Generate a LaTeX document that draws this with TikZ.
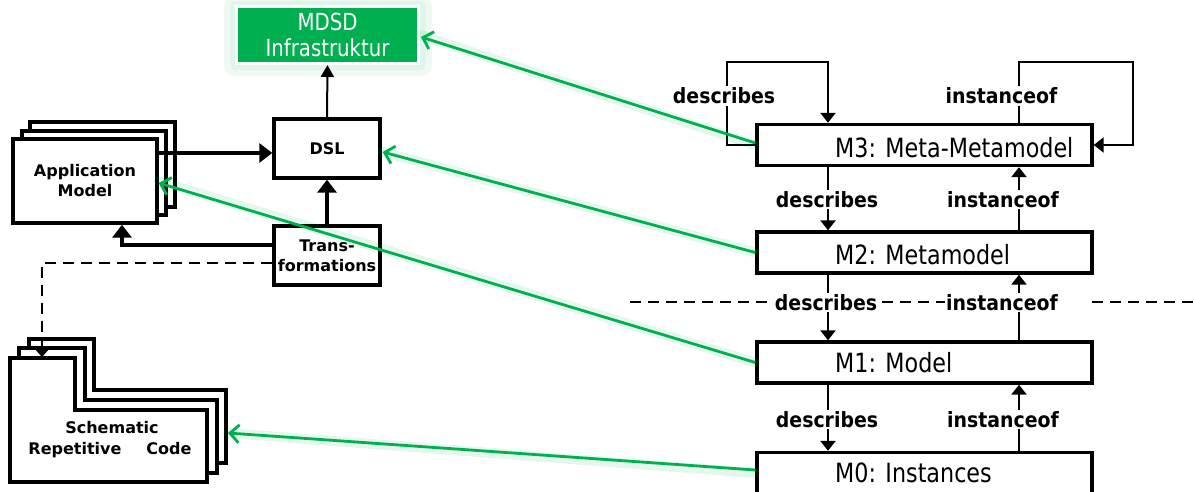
\documentclass[tikz,border=0pt]{standalone}
\usepackage{fontspec}
\setmainfont{DejaVu Sans}
\newfontfamily\tah[FakeStretch=0.84]{DejaVu Sans}
\newfontfamily\lbl[FakeStretch=0.9]{DejaVu Sans}
\usetikzlibrary{arrows.meta,calc}
\definecolor{mgreen}{RGB}{0,176,80}
\begin{document}
\begin{tikzpicture}[x=1pt,y=-1pt,
  box/.style={draw, line width=3.4pt, fill=white, inner sep=0pt},
  lbox/.style={box, minimum width=106pt, minimum height=59pt, align=center,
    font=\bfseries\fontsize{16}{20}\selectfont},
  mbox/.style={box, minimum width=335pt, minimum height=41pt},
  mtext/.style={anchor=base west, inner sep=0pt, font=\tah\fontsize{26.5}{30}\selectfont},
  lab/.style={fill=white, inner sep=1.5pt, font=\lbl\bfseries\fontsize{21}{22}\selectfont},
  btext/.style={anchor=base, inner sep=0pt, font=\bfseries\fontsize{16}{20}\selectfont},
  arr/.style={line width=2.8pt, -{Triangle[length=10pt,width=15pt]}},
  larr/.style={line width=3.3pt, -{Triangle[length=13pt,width=19pt]}},
  loopl/.style={line width=2.4pt, line join=miter},
  glow/.style={line width=10pt, draw=mgreen, draw opacity=0.10, line cap=round},
  garr/.style={line width=2.8pt, draw=mgreen, -{Straight Barb[length=9pt,width=18pt,line width=2.8pt]}},
  dashln/.style={line width=2.6pt, dash pattern=on 11pt off 7pt}
]
\useasboundingbox (0,0) rectangle (1194,491);

% ---------- MDSD infrastructure (with glow) ----------
\fill[mgreen!6, rounded corners=10pt] (224,-4) rectangle (432,76);
\fill[mgreen!12, rounded corners=6pt] (230,1) rectangle (426,70);
\node[fill=mgreen, draw=white, line width=3pt, minimum width=182pt, minimum height=57pt,
  inner sep=0pt, align=center, text=white, font=\tah\fontsize{23.5}{25.5}\selectfont]
  (mdsd) at (327.5,35) {MDSD\\Infrastruktur};

% ---------- DSL, Transformations ----------
\node[lbox] (dsl) at (327,148.5) {DSL};
\node[lbox] (trans) at (327,255.5) {Trans-\\formations};

% ---------- Application model stack ----------
\draw[box] (30,122) rectangle (175,207);
\draw[box] (22,131) rectangle (166,215);
\node[lbox, minimum width=144pt, minimum height=84pt] (app) at (85,181) {Application\\Model};

% ---------- Code stack (folder shapes) ----------
\draw[box] (29,339) -- (94,339) -- (94,390) -- (226,390) -- (226,463) -- (29,463) -- cycle;
\draw[box] (19,348) -- (85,348) -- (85,400) -- (217,400) -- (217,473) -- (19,473) -- cycle;
\draw[box] (10,358) -- (75,358) -- (75,410) -- (207,410) -- (207,482) -- (10,482) -- cycle;
\node[btext] (sch) at (112,433) {Schematic};
\node[btext] (rep) at (75,454) {Repetitive};
\node[btext] (cod) at (169,454) {Code};
\coordinate (codetop) at (42,357);
\coordinate (codeR) at (228,433);

% ---------- left connectors ----------
\draw[line width=2pt, -{Triangle[length=12pt,width=13pt]}] (dsl.north) -- (mdsd.south);
\draw[larr] (trans.north) -- (dsl.south);
\draw[larr] (app.east |- {$(dsl.west)+(0,4.5)$}) -- ($(dsl.west)+(0,4.5)$);
\draw[larr] ($(trans.west)+(0,-10.5)$) -| ($(app.south)+(37,0)$);
\draw[dashln, -{Triangle[length=11pt,width=19pt]}] ($(trans.west)+(0,7.5)$) -| (codetop);

% ---------- M boxes ----------
\node[mbox] (m3) at (924.5,145) {};
\node[mbox] (m2) at (924.5,252.5) {};
\node[mbox] (m1) at (924.5,362.5) {};
\node[mbox] (m0) at (924.5,473) {};
\node[mtext] (t3) at (835,157) {M3: Meta-Metamodel};
\node[mtext] (t2) at (835,264) {M2: Metamodel};
\node[mtext] (t1) at (835,372) {M1: Model};
\node[mtext] (t0) at (835,482) {M0: Instances};

\coordinate (dx) at (828,0);
\coordinate (ix) at (1019,0);

% dashed separator
\draw[dashln] (630,302) -- (1060,302);
\draw[dashln] (1092,302) -- (1194,302);

% self loops on M3
\draw[loopl, -{Triangle[length=10pt,width=15pt]}] (m3.west) -- (727,145) -- (727,62) -- (828,62) -- (m3.north -| dx);
\draw[loopl, -{Triangle[length=10pt,width=15pt]}] (m3.north -| ix) -- (1019,62) -- (1133,62) -- (1133,145) -- (m3.east);
\node[lab] (d3) at (724,96) {describes};
\node[lab] (i3) at (1001.5,96) {instanceof};

% describes / instanceof between levels
\draw[arr] (m3.south -| dx) -- (m2.north -| dx);
\draw[arr] (m2.north -| ix) -- (m3.south -| ix);
\draw[arr] (m2.south -| dx) -- (m1.north -| dx);
\draw[arr] (m1.north -| ix) -- (m2.south -| ix);
\draw[arr] (m1.south -| dx) -- (m0.north -| dx);
\draw[arr] (m0.north -| ix) -- (m1.south -| ix);
\node[lab] (d2) at (827,199.5) {describes};
\node[lab] (i2) at (1003,199.5) {instanceof};
\node[lab] (d1) at (826,302.5) {describes};
\node[lab] (i1) at (1002,302.5) {instanceof};
\node[lab] (d0) at (827,419.5) {describes};
\node[lab] (i0) at (1003,419.5) {instanceof};

% ---------- green mapping arrows ----------
\draw[glow] (m3.west) -- (mdsd.east);
\draw[glow] (m2.west) -- ($(dsl.east)+(1,3.5)$);
\draw[glow] (m1.west) -- (app.east);
\draw[glow] (m0.west) -- (codeR);
\draw[garr] ($(m3.west)+(0,-2)$) -- ($(mdsd.east)+(1,2)$);
\draw[garr] (m2.west) -- ($(dsl.east)+(1,3.5)$);
\draw[garr] (m1.west) -- ($(app.east)+(0,2)$);
\draw[garr] ($(m0.west)+(0,-3)$) -- (codeR);
\end{tikzpicture}
\end{document}
